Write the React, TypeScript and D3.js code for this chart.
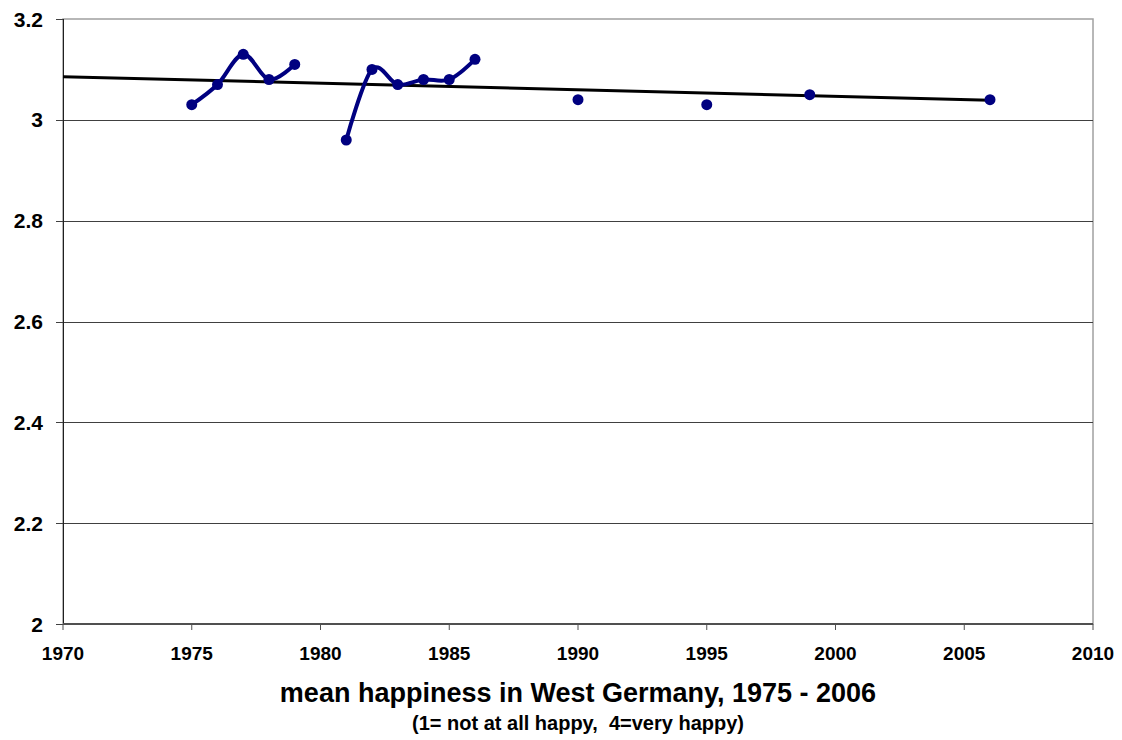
import React from "react";
import * as d3 from "d3";

const W = 1122;
const H = 740;

const segment1Years = [1975, 1976, 1977, 1978, 1979];
const segment1Values = [3.03, 3.07, 3.13, 3.08, 3.11];
const segment2Years = [1981, 1982, 1983, 1984, 1985, 1986];
const segment2Values = [2.96, 3.1, 3.07, 3.08, 3.08, 3.12];
const singleYears = [1990, 1995, 1999, 2006];
const singleValues = [3.04, 3.03, 3.05, 3.04];

const xTicks = [1970, 1975, 1980, 1985, 1990, 1995, 2000, 2005, 2010];
const yTicks = [2, 2.2, 2.4, 2.6, 2.8, 3, 3.2];
const yTickLabels = ["2", "2.2", "2.4", "2.6", "2.8", "3", "3.2"];

const title = "mean happiness in West Germany, 1975 - 2006";
const subtitle = "(1= not at all happy,  4=very happy)";

const FONT = "'Liberation Sans', Arial, Helvetica, sans-serif";
const NAVY = "#000080";

export default function App() {
  const plot = { left: 63, right: 1093, top: 19, bottom: 624 };
  const x = d3.scaleLinear().domain([1970, 2010]).range([plot.left, plot.right]);
  const y = d3.scaleLinear().domain([2, 3.2]).range([plot.bottom, plot.top]);

  const seg1 = segment1Years.map((yr, i) => [yr, segment1Values[i]] as [number, number]);
  const seg2 = segment2Years.map((yr, i) => [yr, segment2Values[i]] as [number, number]);
  const singles = singleYears.map((yr, i) => [yr, singleValues[i]] as [number, number]);
  const all = [...seg1, ...seg2, ...singles];

  const mx = d3.mean(all, (d) => d[0]) as number;
  const my = d3.mean(all, (d) => d[1]) as number;
  const sxy = d3.sum(all, (d) => (d[0] - mx) * (d[1] - my));
  const sxx = d3.sum(all, (d) => (d[0] - mx) * (d[0] - mx));
  const slope = sxy / sxx;
  const intercept = my - slope * mx;
  const trendStart = 1970;
  const trendEnd = d3.max(all, (d) => d[0]) as number;

  const line = d3
    .line<[number, number]>()
    .x((d) => x(d[0]))
    .y((d) => y(d[1]))
    .curve(d3.curveCardinal.tension(0));

  return (
    <svg
      width={W}
      height={H}
      style={{ position: "absolute", left: 0, top: 0, background: "#fff" }}
      fontFamily={FONT}
    >
      <rect x={0} y={0} width={W} height={H} fill="#fff" />
      {/* plot border */}
      <rect
        x={plot.left}
        y={plot.top}
        width={plot.right - plot.left}
        height={plot.bottom - plot.top}
        fill="none"
        stroke="#a0a0a0"
        strokeWidth={1.5}
      />
      {/* gridlines */}
      {yTicks
        .filter((t) => t > 2 && t < 3.2)
        .map((t) => (
          <line
            key={t}
            x1={plot.left}
            x2={plot.right}
            y1={Math.round(y(t)) + 0.5}
            y2={Math.round(y(t)) + 0.5}
            stroke="#404040"
            strokeWidth={1}
          />
        ))}
      {/* left axis */}
      <line x1={plot.left + 0.5} x2={plot.left + 0.5} y1={plot.top} y2={plot.bottom} stroke="#202020" strokeWidth={1} />
      {yTicks.map((t, i) => (
        <g key={t}>
          <line
            x1={plot.left - 7}
            x2={plot.left}
            y1={Math.round(y(t)) + 0.5}
            y2={Math.round(y(t)) + 0.5}
            stroke="#404040"
            strokeWidth={1}
          />
          <text
            x={43}
            y={y(t)}
            dy="0.36em"
            textAnchor="end"
            fontSize={21}
            fontWeight="bold"
            fill="#000"
          >
            {yTickLabels[i]}
          </text>
        </g>
      ))}
      {/* bottom axis */}
      <line x1={plot.left} x2={plot.right} y1={plot.bottom} y2={plot.bottom} stroke="#505050" strokeWidth={2} />
      {xTicks.map((t) => (
        <g key={t}>
          <line x1={x(t)} x2={x(t)} y1={plot.bottom} y2={plot.bottom + 6} stroke="#505050" strokeWidth={1} />
          <text x={x(t)} y={660} textAnchor="middle" fontSize={19} fontWeight="bold" fill="#000">
            {t}
          </text>
        </g>
      ))}
      {/* trend line */}
      <line
        x1={x(trendStart)}
        y1={y(intercept + slope * trendStart)}
        x2={x(trendEnd)}
        y2={y(intercept + slope * trendEnd)}
        stroke="#000"
        strokeWidth={3}
      />
      {/* series lines */}
      <path d={line(seg1) ?? ""} fill="none" stroke={NAVY} strokeWidth={4} strokeLinejoin="round" />
      <path d={line(seg2) ?? ""} fill="none" stroke={NAVY} strokeWidth={4} strokeLinejoin="round" />
      {all.map((d) => (
        <circle key={d[0]} cx={x(d[0])} cy={y(d[1])} r={5.5} fill={NAVY} />
      ))}
      {/* titles */}
      <text x={(plot.left + plot.right) / 2} y={702} textAnchor="middle" fontSize={27} fontWeight="bold" fill="#000">
        {title}
      </text>
      <text x={(plot.left + plot.right) / 2} y={730} textAnchor="middle" fontSize={20} fontWeight="bold" fill="#000" style={{ whiteSpace: "pre" }}>
        {subtitle}
      </text>
    </svg>
  );
}
